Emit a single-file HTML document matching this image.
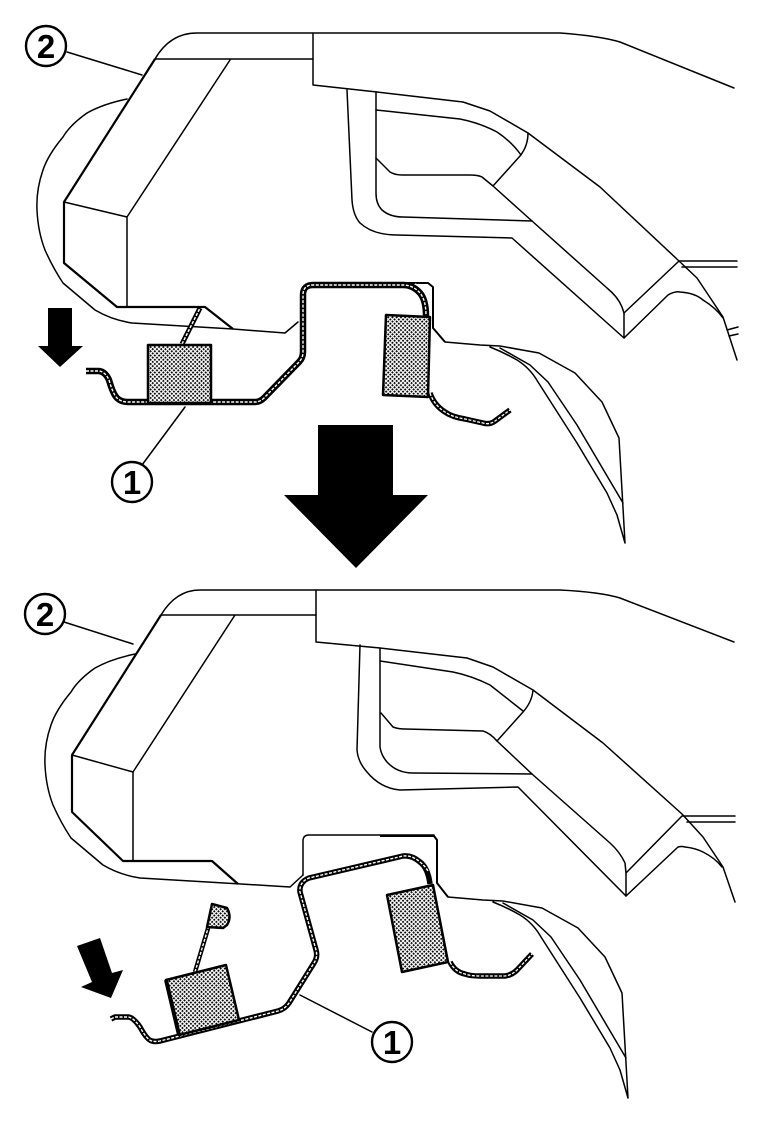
<!DOCTYPE html>
<html><head><meta charset="utf-8"><style>
html,body{margin:0;padding:0;background:#fff;width:768px;height:1123px;overflow:hidden}
svg{display:block}
.l{fill:none;stroke:#000;stroke-width:1.5;stroke-linejoin:round;stroke-linecap:round}
.m{fill:none;stroke:#000;stroke-width:2.2;stroke-linejoin:round}
.s1{fill:none;stroke:#000;stroke-width:6.5;stroke-linejoin:round}
.s2{fill:none;stroke:#fff;stroke-width:1.4;stroke-dasharray:3 1.5;stroke-linejoin:round}
.b{fill:url(#h);stroke:#000;stroke-width:2.5;stroke-linejoin:round}
.c{fill:#fff;stroke:#000;stroke-width:2.4}
text{font-family:"Liberation Sans",sans-serif;font-weight:bold;font-size:33px;text-anchor:middle;fill:#000}
</style></head><body>
<svg width="768" height="1123" viewBox="0 0 768 1123" xmlns="http://www.w3.org/2000/svg">
<defs><pattern id="h" width="3" height="3" patternUnits="userSpaceOnUse" patternTransform="rotate(45)"><rect width="3" height="3" fill="#fff"/><rect width="1.8" height="1.8" fill="#000"/></pattern>
<path id="tail" d="M445 342L480 345L500 346L539 353L575 373L602 402L619 438L625 543M490 347Q505 353 517 360Q530 368 538 382L577 443L607 493L617 515L625 543M500 348L530 365L548 382L577 425L623 503"/>
</defs>

<!-- TOP FIGURE -->
<path class="l" d="M155 59Q170 33 197 33H560Q600 36 620 42L734 88"/>
<path class="m" d="M155 59L64 202V263L117 307H205L233 329"/>
<path class="l" d="M155 59H313M64 202L127 217L230 60M127 217V307"/>
<path class="l" d="M127 99Q103 104 87 113Q70 125 63 137Q48 155 43 170Q36 190 37 210Q38 232 45 250Q53 268 63 283L95 310Q112 320 132 323L233 329L285 333L298 322"/>
<path class="l" d="M313 34V85L377 92L463 102L490 111L528 133L600 187L679 261L697 278L723 317L737 360"/>
<path class="l" d="M347 90L352 200Q353 215 360 223Q373 235 397 235L512 238L624 338V313L622 307Q618 297 607 288L532 221L493 186"/>
<path class="l" d="M376 92V193Q376 204 382 210Q390 217 403 217L532 221"/>
<path class="l" d="M376 110L460 119Q480 123 497 132Q512 142 521 155"/>
<path class="l" d="M376 158L390 172Q395 175 402 175H470Q478 175 482 177L493 186L520 156Q528 146 528 133"/>
<path class="l" d="M624 313L679 261H737M682 267H737M624 338L668 295Q675 291 680 292Q695 293 703 300Q716 308 723 318M727 330L738 327M729 336L738 334"/>
<path class="m" d="M310 283H428L433 287V328L445 342" style="stroke-width:2"/>
<use href="#tail" class="l"/>
<path class="s1" d="M86 371H98Q105 371 109 380Q113 394 117 398Q121 402 128 402H255Q260 402 264 398L299 362Q303 358 303 352V295Q303 285 313 285H403Q413 285 420 293Q426 300 426 316"/>
<path class="s2" d="M86 371H98Q105 371 109 380Q113 394 117 398Q121 402 128 402H255Q260 402 264 398L299 362Q303 358 303 352V295Q303 285 313 285H403Q413 285 420 293Q426 300 426 316"/>
<path d="M415 284Q428 288 430 300V316" fill="none" stroke="#fff" stroke-width="1.2" stroke-dasharray="3 1"/>
<path class="s1" d="M430 393Q434 405 445 412Q452 417 465 419L483 423Q490 425 495 421L510 410" style="stroke-width:5.5"/>
<path class="s2" d="M430 393Q434 405 445 412Q452 417 465 419L483 423Q490 425 495 421L510 410" style="stroke-width:1.3"/>
<path d="M182 344L200 308" stroke="#000" stroke-width="5" fill="none"/>
<path d="M182 344L200 308" stroke="#fff" stroke-width="1.5" stroke-dasharray="3 1.5" fill="none"/>
<rect class="b" x="148" y="345" width="63" height="58"/>
<path class="b" d="M386 315L430 317L428 397L383 395Z"/>
<path d="M48 308H72V346H83L60 367L38 346H48Z"/>
<path d="M318 425H393V495H428L356 568L284 495H318Z"/>
<path class="l" d="M67 52L142 75M185 407L142 465"/>
<circle class="c" cx="46" cy="46" r="20"/><text x="46" y="58">2</text>
<circle class="c" cx="132" cy="482" r="20"/><text x="132" y="494">1</text>

<!-- BOTTOM FIGURE -->
<path class="l" d="M161 615Q176 590 200 590H560Q600 592 620 598L734 642"/>
<path class="m" d="M161 615L72 755V812L123 861H212L238 884"/>
<path class="l" d="M161 615H316M72 755L133 772L235 615M133 772V861"/>
<path class="l" d="M135 654Q111 659 95 668Q78 680 71 692Q56 710 51 725Q44 745 45 765Q46 787 53 805Q61 823 71 838L103 865Q120 875 140 878L241 884L290 887L303 875"/>
<path class="l" d="M316 590V642L380 648L467 658L493 667L533 690L603 743L682 814L703 837L723 867L735 902"/>
<path class="l" d="M360 645L357 750Q358 762 367 772Q380 788 400 790L518 787L626 896V873L625 863Q620 852 610 843L532 774L497 741"/>
<path class="l" d="M380 648V747Q381 755 387 762Q397 773 413 773L532 774"/>
<path class="l" d="M380 661L453 672Q472 676 490 685L523 711"/>
<path class="l" d="M381 713L393 727Q398 729 405 729L483 731Q490 733 497 741L523 712Q532 702 533 690"/>
<path class="l" d="M626 873L682 816H735M687 822H735M626 896L678 847Q682 846 685 847Q695 848 703 852Q715 858 722 867"/>
<path class="l" d="M303 875V841Q303 835 309 835H434"/>
<path class="m" d="M380 836H434L437 840V883L448 897" style="stroke-width:2"/>
<g transform="translate(3 555)"><use href="#tail" class="l"/></g>
<path class="s1" d="M111 1019L115 1017H128Q133 1017 140 1027Q147 1040 152 1041Q155 1042 160 1041L278 1011Q285 1009 289 1003L314 963Q318 957 316 950L300 892Q299 882 309 878L403 856Q412 855 420 862Q428 868 430 884" style="stroke-width:5.5"/>
<path class="s2" d="M111 1019L115 1017H128Q133 1017 140 1027Q147 1040 152 1041Q155 1042 160 1041L278 1011Q285 1009 289 1003L314 963Q318 957 316 950L300 892Q299 882 309 878L403 856Q412 855 420 862Q425 866 428 871"/>
<path class="s1" d="M450 962Q455 972 465 974Q470 976 480 976H505Q512 975 517 970L532 954" style="stroke-width:5.5"/>
<path class="s2" d="M450 962Q455 972 465 974Q470 976 480 976H505Q512 975 517 970L532 954" style="stroke-width:1.3"/>
<path d="M195 972L209 925" stroke="#000" stroke-width="4.5" fill="none"/>
<path d="M195 972L209 925" stroke="#fff" stroke-width="1.4" stroke-dasharray="3 1.5" fill="none"/>
<path class="b" d="M212 904L227 908Q232 917 227 925L223 928L207 927Z"/>
<path class="b" d="M166 980L226 965L239 1020L179 1035Z"/>
<path d="M166 980L179 1035" stroke="#000" stroke-width="4"/>
<path class="b" d="M387 895L433 885L448 962L402 972Z"/>
<path d="M77 946L100 938L112 973L123 970L111 998L81 987L92 982Z"/>
<path class="l" d="M64 622L133 644M300 995L372 1032"/>
<circle class="c" cx="45" cy="614" r="20"/><text x="45" y="626">2</text>
<circle class="c" cx="392" cy="1042" r="20"/><text x="392" y="1054">1</text>
</svg>
</body></html>
